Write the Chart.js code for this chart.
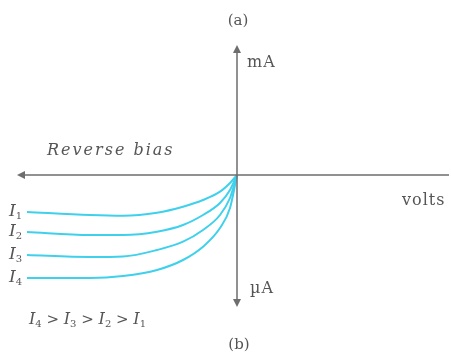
<!DOCTYPE html>
<html>
<head>
<meta charset="utf-8">
<script src="https://cdn.jsdelivr.net/npm/chart.js@4/dist/chart.umd.min.js"></script>
<style>
  html, body { margin: 0; padding: 0; background: #fff; }
  #wrap { width: 451px; height: 352px; position: relative; }
</style>
</head>
<body>
<div id="wrap"><canvas id="chart"></canvas></div>
<script>
/* Photodiode reverse-bias characteristics, one curve per illumination level */

const voltage = [-21, -14.7, -11.4, -8, -5.4, -3.4, -1.7, -0.7, 0];
const seriesNames = ['1', '2', '3', '4'];
const currentI1 = [-3.7, -4.0, -4.07, -3.77, -3.17, -2.5, -1.67, -0.8, 0];
const currentI2 = [-5.7, -6.0, -6.0, -5.67, -5.0, -4.0, -2.8, -1.5, 0];
const currentI3 = [-8.0, -8.2, -8.15, -7.5, -6.67, -5.5, -4.0, -2.3, 0];
const currentI4 = [-10.3, -10.3, -10.1, -9.5, -8.5, -7.17, -5.3, -3.3, 0];
const axisX = [-22, 21.2];
const axisY = [-13.2, 13];

const INK = '#6e6e6e';
const TEXT = '#555';
const CURVE = '#3fd0ec';
const SERIF = '"DejaVu Serif", "Liberation Serif", serif';

const currents = [currentI1, currentI2, currentI3, currentI4];

function arrow(ctx, x, y, dir) {
    // dir: 'left' | 'up' | 'down'
    const l = 8, w = 4;
    ctx.beginPath();
    if (dir === 'left') { ctx.moveTo(x, y); ctx.lineTo(x + l, y - w); ctx.lineTo(x + l, y + w); }
    if (dir === 'up')   { ctx.moveTo(x, y); ctx.lineTo(x - w, y + l); ctx.lineTo(x + w, y + l); }
    if (dir === 'down') { ctx.moveTo(x, y); ctx.lineTo(x - w, y - l); ctx.lineTo(x + w, y - l); }
    ctx.closePath();
    ctx.fill();
}

// italic I followed by a small subscript, starting at x
function subI(ctx, x, y, sub, size) {
    ctx.textAlign = 'left';
    ctx.font = `italic ${size}px ${SERIF}`;
    ctx.fillText('I', x, y);
    const wI = ctx.measureText('I').width;
    ctx.font = `${Math.round(size * 0.6)}px ${SERIF}`;
    ctx.fillText(sub, x + wI, y + 3);
    return wI + ctx.measureText(sub).width;
}

const axesPlugin = {
    id: 'axesPlugin',
    afterDatasetsDraw(chart) {
        const { ctx, scales: { x, y } } = chart;
        const x0 = x.getPixelForValue(0), y0 = y.getPixelForValue(0);
        const xl = x.getPixelForValue(axisX[0]), xr = x.getPixelForValue(axisX[1]);
        const yt = y.getPixelForValue(axisY[1]), yb = y.getPixelForValue(axisY[0]);
        ctx.save();
        ctx.strokeStyle = INK;
        ctx.fillStyle = INK;
        ctx.lineWidth = 1.5;
        ctx.beginPath();
        ctx.moveTo(xl + 2, y0); ctx.lineTo(xr, y0);
        ctx.moveTo(x0, yt + 2); ctx.lineTo(x0, yb - 2);
        ctx.stroke();
        arrow(ctx, xl, y0, 'left');
        arrow(ctx, x0, yt, 'up');
        arrow(ctx, x0, yb, 'down');

        ctx.fillStyle = TEXT;
        ctx.textBaseline = 'alphabetic';
        ctx.textAlign = 'center';
        ctx.font = `15px ${SERIF}`;
        ctx.fillText('(a)', x0 + 1, 25);
        ctx.fillText('(b)', x0 + 2, 349);

        ctx.textAlign = 'left';
        ctx.letterSpacing = '1px';
        ctx.font = `16px ${SERIF}`;
        ctx.fillText('mA', x0 + 10, yt + 22);
        ctx.fillText('\u00b5A', x0 + 13, yb - 14);
        ctx.fillText('volts', xr - 47, y0 + 30);

        ctx.letterSpacing = '2px';
        ctx.font = `italic 16px ${SERIF}`;
        ctx.fillText('Reverse bias', xl + 30, y0 - 20);
        ctx.letterSpacing = '0px';

        // curve labels at the left end of each curve
        currents.forEach((c, i) => {
            const px = x.getPixelForValue(voltage[0]);
            const py = y.getPixelForValue(c[0]);
            subI(ctx, px - 18, py + 4, seriesNames[i], 17);
        });

        // ordering of the intensities
        let cx = 29;
        const order = ['4', '3', '2', '1'];
        order.forEach((s, i) => {
            cx += subI(ctx, cx, 324, s, 16);
            if (i < order.length - 1) {
                ctx.font = `15px ${SERIF}`;
                ctx.fillText(' > ', cx, 324);
                cx += ctx.measureText(' > ').width;
            }
        });
        ctx.restore();
    }
};

new Chart(document.getElementById('chart'), {
    type: 'line',
    data: {
        datasets: currents.map((c, i) => ({
            label: 'I' + seriesNames[i],
            data: voltage.map((v, k) => ({ x: v, y: c[k] })),
            borderColor: CURVE,
            borderWidth: 2,
            pointRadius: 0,
            fill: false,
            cubicInterpolationMode: 'monotone'
        }))
    },
    options: {
        responsive: true,
        maintainAspectRatio: false,
        animation: false,
        layout: { padding: 0 },
        plugins: { legend: { display: false }, tooltip: { enabled: false } },
        scales: {
            x: { type: 'linear', display: false, min: -23.7, max: 21.4 },
            y: { type: 'linear', display: false, min: -17.7, max: 17.5 }
        }
    },
    plugins: [axesPlugin]
});
</script>
</body>
</html>
